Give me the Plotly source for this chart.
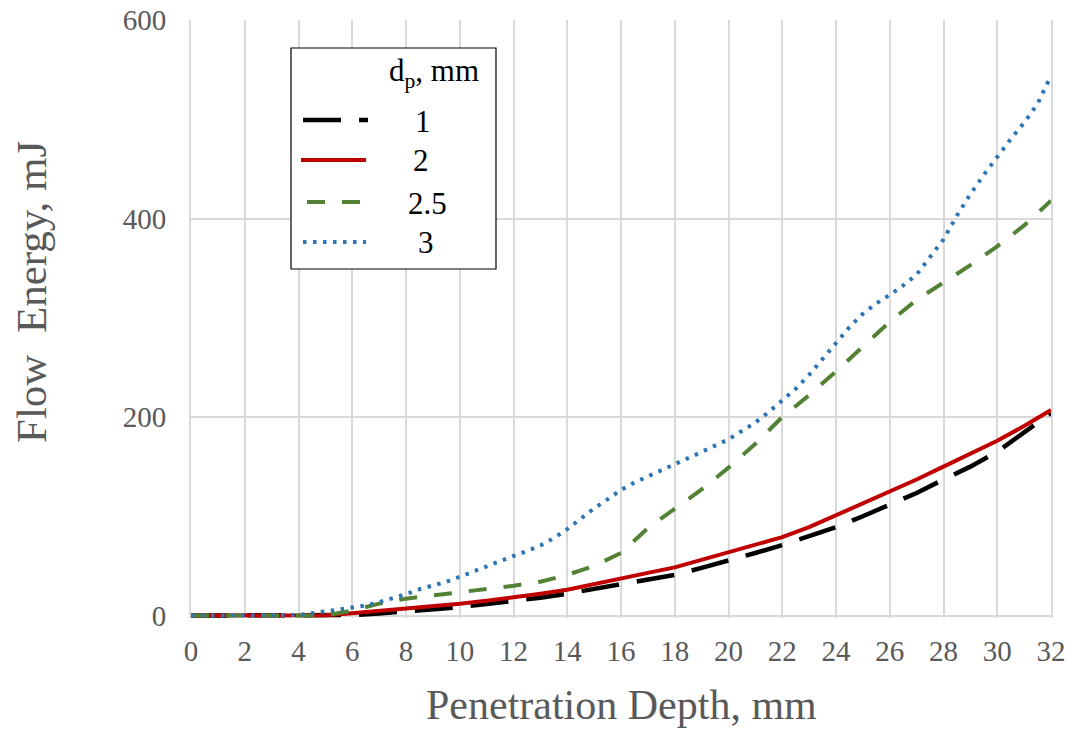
import plotly.graph_objects as go

# Penetration depth (mm) sampled every 1 mm for the smoother curves
depth = list(range(0, 33))

# Flow energy (mJ) for each particle diameter d_p
energy_d1 = [0, 0, 0, 0, 0, 0, 0.5, 2, 4, 6, 8.5, 11.5, 14.5, 18, 22, 26.5, 31,
             36, 41, 48, 55, 63, 71, 80, 89, 100, 112, 123.5, 137, 150, 165, 184, 204]
energy_d2 = [0, 0, 0, 0, 0, 0.3, 2.3, 4.5, 6.8, 9.2, 11.8, 14.8, 18, 22, 26, 32, 38,
             43, 48.5, 56, 64, 71, 79, 89, 101, 112, 125, 137, 150, 163, 176, 191, 207]
energy_d25 = [0, 0, 0, 0, 0, 0, 5, 12, 17, 20, 23.6, 26.5, 30, 34, 41, 50, 63,
              88, 107, 127, 149, 173, 200, 222, 246, 271, 296, 318, 335, 353, 372, 393, 418]

# The 3 mm curve is sampled every 0.5 mm
depth_fine = [i * 0.5 for i in range(0, 65)]
energy_d3 = [0, 0, 0, 0, 0, 0, 0, 0, 0.5, 2.2, 4, 5.7, 7.8, 10, 13.5, 17, 21.5,
             26.5, 30, 34, 39, 44.5, 50, 55.5, 60, 65, 70.5, 78, 87, 97.5, 108,
             117, 126.5, 134, 140.5, 146.5, 152.5, 158.5, 165, 171, 177.5, 186,
             194.5, 205, 216.5, 228.5, 242.5, 258.5, 275, 290.5, 304, 314.5, 323,
             332.5, 343.5, 360.5, 379, 403, 424.5, 444, 462.5, 480, 496.5, 515.5, 544]

legend_labels = ["1", "2", "2.5", "3"]
x_ticks = list(range(0, 33, 2))
y_ticks = [0, 200, 400, 600]

series = [
    (depth, energy_d1, "#000000", 4.5, "38px,18px"),
    (depth, energy_d2, "#C00000", 4, "solid"),
    (depth, energy_d25, "#548235", 4, "18px,17px"),
    (depth_fine, energy_d3, "#2E75B6", 4, "3.5px,6.5px"),
]

fig = go.Figure()
for (xs, ys, color, width, dash), name in zip(series, legend_labels):
    fig.add_trace(go.Scatter(
        x=xs, y=ys, mode="lines", name=name, showlegend=False,
        line=dict(color=color, width=width, dash=dash),
    ))

# Plot area geometry in pixels (used for the boxed legend)
W, H = 1077, 733
L, R, T, B = 191, 26, 20, 115
pw, ph = W - L - R, H - T - B


def px(xp):
    return (xp - L) / pw


def py(yp):
    return (H - B - yp) / ph


serif = "Liberation Serif"
grey = "#595959"
grid = "#D9D9D9"

shapes = []
annotations = []

# Legend frame
shapes.append(dict(type="rect", xref="paper", yref="paper",
                   x0=px(291), x1=px(496), y0=py(269), y1=py(48),
                   line=dict(color="#000000", width=1.2), fillcolor="white",
                   layer="above"))
annotations.append(dict(text="d<sub>p</sub>, mm", xref="paper", yref="paper",
                        x=px(434), y=py(73), xanchor="center", yanchor="middle",
                        showarrow=False, font=dict(family=serif, size=31, color="#000000")))

legend_rows = [120, 160, 202, 242]
legend_segments = [(303, 368), (301, 366), (307, 360), (303, 366)]
legend_text_x = [423, 421, 427, 426]
for (xs, ys, color, width, dash), name, yrow, (xa, xb), tx in zip(
        series, legend_labels, legend_rows, legend_segments, legend_text_x):
    shapes.append(dict(type="line", xref="paper", yref="paper",
                       x0=px(xa), x1=px(xb), y0=py(yrow), y1=py(yrow),
                       line=dict(color=color, width=width, dash=dash), layer="above"))
    annotations.append(dict(text=name, xref="paper", yref="paper",
                            x=px(tx), y=py(yrow + 1), xanchor="center", yanchor="middle",
                            showarrow=False,
                            font=dict(family=serif, size=31, color="#000000")))

# Axis titles
annotations.append(dict(text="Penetration Depth, mm", xref="paper", yref="paper",
                        x=0.5, y=py(705), xanchor="center", yanchor="middle",
                        showarrow=False, font=dict(family=serif, size=42, color=grey)))
annotations.append(dict(text="Flow  Energy, mJ", xref="paper", yref="paper",
                        x=px(31), y=py(292), xanchor="center", yanchor="middle",
                        textangle=-90, showarrow=False,
                        font=dict(family=serif, size=43, color=grey)))

fig.update_layout(
    width=W, height=H, autosize=False,
    margin=dict(l=L, r=R, t=T, b=B, pad=0, autoexpand=False),
    paper_bgcolor="white", plot_bgcolor="white",
    shapes=shapes, annotations=annotations,
    xaxis=dict(range=[0, 32], tickvals=x_ticks, ticks="", showline=False,
               automargin=False,
               showgrid=True, gridcolor=grid, gridwidth=1.75, zeroline=False,
               tickfont=dict(family=serif, size=29, color=grey),
               ticklabelstandoff=13),
    yaxis=dict(range=[-2.5, 600], tickvals=y_ticks, ticks="", showline=True,
               automargin=False,
               mirror=True, linecolor=grid, linewidth=1.75,
               showgrid=True, gridcolor=grid, gridwidth=1.75,
               zeroline=True, zerolinecolor=grid, zerolinewidth=1.75,
               tickfont=dict(family=serif, size=29, color=grey),
               ticklabelstandoff=17),
)

fig.write_html("out.html")
